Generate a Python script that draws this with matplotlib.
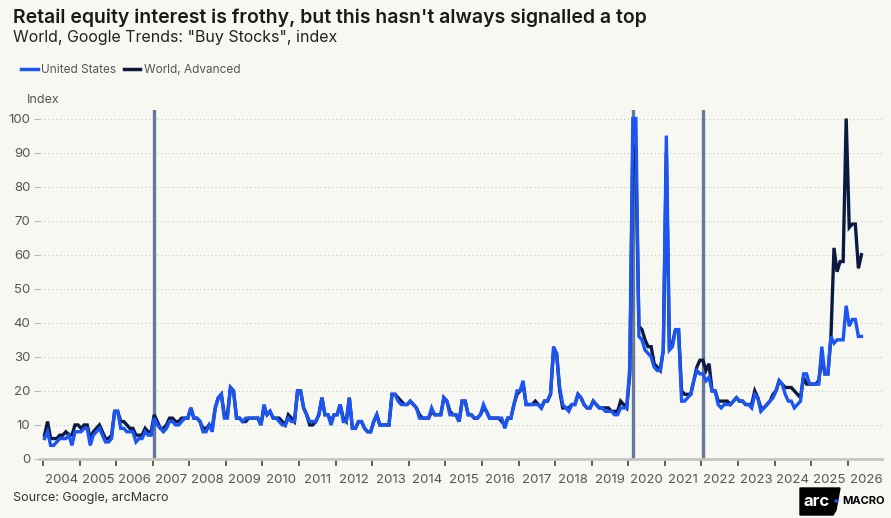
import numpy as np
import matplotlib
matplotlib.use("Agg")
import matplotlib.pyplot as plt
from matplotlib.patches import Polygon, Circle
from matplotlib.lines import Line2D

plt.rcParams['font.family'] = ['Inter', 'DejaVu Sans']

# ---- data: Google Trends "Buy Stocks", monthly from Jan 2004 ----
start_year = 2004
us = [
    6, 8, 4, 4, 5, 6, 6, 6, 7, 4, 8, 8,            # 2004
    8, 9, 9, 4, 7, 8, 9, 7, 5, 5, 6, 14,           # 2005
    14, 9, 9, 8, 8, 8, 5, 6, 6, 8, 7, 7,           # 2006
    12, 10, 9, 8, 9, 11, 11, 10, 10, 11, 12, 12,   # 2007
    15, 12, 12, 11, 8, 8, 10, 8, 15, 18, 19, 12,   # 2008
    12, 21, 20, 12, 12, 11, 12, 12, 12, 12, 12, 10,  # 2009
    16, 13, 14, 12, 12, 11, 10, 10, 12, 11, 11, 20,  # 2010
    20, 15, 13, 11, 11, 11, 13, 18, 13, 13, 10, 13,  # 2011
    13, 16, 11, 11, 18, 9, 9, 11, 11, 9, 8, 8,       # 2012
    11, 13, 10, 10, 10, 10, 19, 19, 17, 16, 16, 16,  # 2013
    17, 16, 15, 12, 12, 12, 12, 15, 13, 13, 13, 18,  # 2014
    17, 13, 13, 13, 11, 17, 17, 13, 13, 12, 12, 13,  # 2015
    16, 14, 12, 12, 12, 12, 12, 9, 12, 12, 16, 20,   # 2016
    20, 23, 16, 16, 16, 16, 16, 15, 17, 17, 19, 33,  # 2017
    31, 21, 16, 15, 14, 16, 16, 19, 18, 16, 15, 15,  # 2018
    17, 16, 15, 15, 14, 14, 14, 13, 13, 15, 15, 15,  # 2019
    27, 100, 100, 36, 35, 32, 31, 30, 27, 26, 26, 32,  # 2020
    95, 32, 33, 38, 38, 17, 17, 18, 19, 23, 26, 25,  # 2021
    25, 23, 24, 20, 20, 16, 15, 16, 16, 16, 17, 18,  # 2022
    17, 17, 16, 16, 15, 19, 18, 14, 15, 16, 17, 18,  # 2023
    20, 23, 22, 19, 17, 17, 15, 16, 17, 25, 25, 22,  # 2024
    22, 22, 22, 33, 25, 25, 36, 34, 35, 35, 35, 45,  # 2025
    39, 41, 41, 36, 36,                              # 2026
]
world_adv = [
    7, 11, 6, 6, 6, 7, 7, 8, 7, 7, 10, 10,
    9, 10, 10, 6, 8, 9, 10, 8, 6, 6, 7, 14,
    14, 11, 11, 10, 9, 9, 7, 7, 7, 9, 8, 8,
    13, 11, 9, 9, 10, 12, 12, 11, 11, 12, 12, 12,
    15, 12, 12, 11, 9, 9, 10, 9, 15, 18, 19, 13,
    13, 21, 20, 12, 12, 11, 11, 12, 12, 12, 12, 10,
    15, 13, 14, 12, 12, 12, 11, 10, 13, 12, 11, 20,
    20, 15, 13, 10, 10, 11, 13, 18, 13, 13, 11, 13,
    13, 16, 12, 11, 18, 9, 9, 11, 11, 9, 8, 8,
    11, 13, 10, 10, 10, 10, 19, 19, 18, 17, 16, 16,
    17, 16, 15, 13, 12, 12, 12, 14, 13, 13, 13, 18,
    17, 14, 13, 13, 11, 17, 17, 13, 13, 12, 12, 13,
    15, 14, 12, 12, 12, 12, 11, 10, 12, 12, 16, 19,
    20, 22, 16, 16, 16, 17, 16, 15, 17, 17, 19, 32,
    31, 20, 15, 15, 15, 16, 16, 19, 18, 16, 15, 15,
    17, 16, 15, 15, 15, 15, 14, 14, 14, 17, 16, 15,
    25, 92, 88, 39, 38, 35, 33, 33, 28, 27, 26, 32,
    90, 32, 34, 38, 38, 20, 19, 19, 19, 23, 27, 29,
    29, 26, 28, 20, 20, 17, 17, 17, 17, 16, 17, 18,
    17, 17, 16, 16, 16, 20, 18, 15, 15, 16, 17, 19,
    20, 23, 22, 21, 21, 21, 20, 19, 18, 24, 22, 22,
    22, 22, 23, 30, 25, 25, 36, 62, 55, 58, 58, 100,
    68, 69, 69, 56, 60,
]
# market-top markers (decimal years)
tops = [2007.03, 2020.13, 2022.04]
years = list(range(2004, 2027))

t = start_year + (np.arange(len(us)) + 0.5) / 12

C_US = '#1B55F5'
C_WA = '#0B1A40'
C_TOP = '#67789A'
BG = '#F8F8F3'
TXT = '#555555'

fig = plt.figure(figsize=(8.91, 5.18), dpi=100)
fig.patch.set_facecolor(BG)
ax = fig.add_axes([0.0449, 0.1139, 0.9447, 0.6737])
ax.set_facecolor(BG)

for x in tops:
    ax.axvline(x, color=C_TOP, lw=2.4, zorder=2)
ax.plot(t, world_adv, color=C_WA, lw=2.4, zorder=3, solid_joinstyle='miter')
ax.plot(t, us, color=C_US, lw=2.4, zorder=4, solid_joinstyle='miter')

ax.set_xlim(2003.918, 2026.93)
ax.set_ylim(0, 102.5)

# y axis
ax.set_yticks(np.arange(0, 101, 10))
ax.yaxis.grid(True, color='#C9C9C4', lw=0.8, ls=(0, (1, 2.5)))
ax.set_axisbelow(True)
ax.tick_params(axis='y', length=4, width=0.8, color='#BBBBBB', pad=3,
               labelsize=9.5, labelcolor=TXT)

# x axis: tick marks at year starts, labels mid-year
ax.set_xticks(years)
ax.set_xticklabels([])
ax.set_xticks([y + 0.5 for y in years], minor=True)
ax.set_xticklabels([str(y) for y in years], minor=True)
ax.tick_params(axis='x', which='major', length=5, width=1.2, color='#444444', direction='out')
ax.tick_params(axis='x', which='minor', length=0, pad=11, labelsize=9.5, labelcolor=TXT)

for s in ['left', 'right', 'top']:
    ax.spines[s].set_visible(False)
ax.spines['bottom'].set_color('#C4C4C0')
ax.spines['bottom'].set_linewidth(2)

# titles
fig.text(0.0146, 0.965, "Retail equity interest is frothy, but this hasn't always signalled a top",
         fontsize=14, fontweight='semibold', color='#1A1A1A', va='center')
fig.text(0.0146, 0.927, 'World, Google Trends: "Buy Stocks", index',
         fontsize=11.5, color='#222222', va='center')
fig.text(0.030, 0.806, 'Index', fontsize=9, color=TXT, va='center')

handles = [Line2D([], [], color=C_US, lw=2.5), Line2D([], [], color=C_WA, lw=2.5)]
fig.legend(handles, ['United States', 'World, Advanced'], loc='center left',
           bbox_to_anchor=(0.012, 0.864), ncol=2, frameon=False, fontsize=8.5,
           handlelength=1.4, handletextpad=0.3, columnspacing=0.6,
           labelcolor=TXT)

fig.text(0.0146, 0.038, 'Source: Google, arcMacro', fontsize=9, color='#333333', va='center')

# arcMacro logo
W, H = 891, 518
box = [(800, 515), (800, 488), (840, 488), (836, 510), (833, 515)]
fig.patches.append(Polygon([(x / W, 1 - y / H) for x, y in box], closed=True,
                           transform=fig.transFigure, color='black'))
fig.text(817 / W, 1 - 501 / H, 'arc', fontsize=12, fontweight='bold', color='white',
         ha='center', va='center')
fig.patches.append(Circle((836.5 / W, 1 - 501 / H), 1.6 / W, transform=fig.transFigure,
                          color=C_US))
fig.text(842 / W, 1 - 501.5 / H, 'MACRO', fontsize=8, fontweight='bold', color='black',
         ha='left', va='center')

fig.savefig('out.png', dpi=100, facecolor=fig.get_facecolor())
